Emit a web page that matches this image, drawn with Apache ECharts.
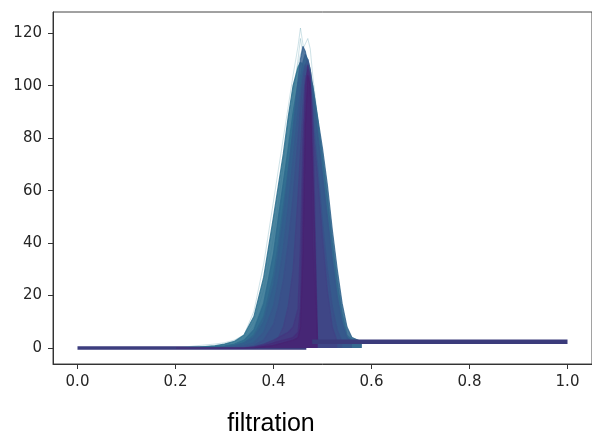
<!DOCTYPE html>
<html>
<head>
<meta charset="utf-8">
<script src="https://cdn.jsdelivr.net/npm/echarts@6/dist/echarts.min.js"></script>
<style>
html,body{margin:0;padding:0;background:#fff;}
#chart{width:592px;height:437px;}
</style>
</head>
<body>
<div id="chart"></div>
<script>
// filtration grid shared by all curves
const xs = [0.20,0.25,0.28,0.30,0.32,0.34,0.36,0.38,0.40,0.41,0.42,0.43,0.44,0.45,0.455,0.46,0.465,0.47,0.475,0.48,0.49,0.50,0.51,0.52,0.53,0.54,0.55,0.56,0.58,0.60];

// faint outlier curves
const faint1 = [0,1,1.5,2,3,5,14,32,56,68,80,92,104,115,122,116,108,102,96,90,78,65,52,38,25,13,6,4,2.4,null];
const faint2 = [0,0.5,1,1.5,2.5,4,10,22,42,55,70,86,100,108,112,114,116,118,114,104,88,72,56,40,26,14,7,4,2.4,null];
const faint3 = [0,0.3,0.8,1.2,2,3.5,8,18,36,48,62,78,96,110,118,112,104,98,92,86,74,62,50,36,22,12,6,3.5,2.4,null];

// main curves
const teal1 = [0,0.3,0.8,1.5,2.5,5,12,27,50,62,74,88,100,107,109,108,106,104,102,100,87,72,57,40,25,13,5,3.2,2.4,null];
const teal2 = [0,0.1,0.4,0.8,1.5,3,7,17,36,50,63,76,90,101,104,103,101,98,94,88,74,58,42,27,14,6,3,2.4,null,null];
const teal3 = [0,0,0.2,0.5,1,2,5,12,28,40,54,68,82,96,103,109,112,110,106,100,88,76,62,45,30,17,8,4,2.4,null];
const blue1 = [0,0,0,0.3,0.8,2,4,10,24,36,50,66,84,102,110,115,113,108,102,95,80,64,48,32,18,8,4,2.4,null,null];
const blue2 = [0,0,0,0,0.3,1,2,6,16,26,38,54,72,90,98,105,108,110,106,98,82,66,50,34,20,10,4,2.4,null,null];
const blue3 = [0,0,0,0,0,0.3,1,3,9,16,26,40,58,80,92,102,108,106,100,90,70,48,30,16,7,2.4,null,null,null,null];
const violet1 = [0,0,0,0,0,0,0,0.5,2,4,8,16,30,58,75,92,104,100,95,85,65,42,22,8,2.4,null,null,null,null,null];
const purple3 = [0,0,0,0,0,0,0.5,1.5,3,4,5,6,8,15,40,80,100,106,102,90,2.4,null,null,null,null,null,null,null,null,null];
const purple1 = [0,0,0,0,0,0,0.3,1,2,2.5,3,3.5,4,6,15,60,100,108,104,40,2.4,null,null,null,null,null,null,null,null,null];
const purple2 = [0,0,0,0,0,0,0,0.5,1,1.5,2,2.5,3,4,8,35,85,104,100,70,2.4,null,null,null,null,null,null,null,null,null];

// flat parts
const baseX = [0.0, 0.467];
const baseY = [0, 0];
const tailX = [0.479, 1.0];
const tailY = [2.4, 2.4];

// ticks
const xTicks = [0.0,0.2,0.4,0.6,0.8,1.0];
const yTicks = [0,20,40,60,80,100,120];

const pairs = (x, y) => x.map((v, i) => [v, y[i]]);

const faintCurves = [faint1, faint2, faint3];
const mainCurves = [
  {d: teal1, c: '#2c708e', o: 0.85},
  {d: teal2, c: '#2e6b8e', o: 0.85},
  {d: teal3, c: '#31658d', o: 0.85},
  {d: blue1, c: '#335e8d', o: 0.8},
  {d: blue2, c: '#37578c', o: 0.8},
  {d: blue3, c: '#3b4f8a', o: 0.75},
  {d: violet1, c: '#414285', o: 0.7},
  {d: purple3, c: '#45337f', o: 0.6},
  {d: purple1, c: '#472878', o: 0.55},
  {d: purple2, c: '#481f70', o: 0.55}
];

const series = [];
series.push({type:'line', data: pairs(baseX, baseY), showSymbol:false, silent:true,
  lineStyle:{color:'#3c3d7e', width:3.5, cap:'butt'}, z:1});
faintCurves.forEach(d => series.push({type:'line', data: pairs(xs, d), showSymbol:false, silent:true,
  lineStyle:{color:'#3a8aa0', width:1, opacity:0.25}, z:2}));
mainCurves.forEach((m, k) => series.push({type:'line', data: pairs(xs, m.d), showSymbol:false, silent:true,
  lineStyle:{color:m.c, width:1.2, opacity:m.o},
  areaStyle:{color:m.c, opacity:m.o}, z:3+k}));
series.push({type:'line', data: pairs(tailX, tailY), showSymbol:false, silent:true,
  lineStyle:{color:'#3b3b7b', width:4.5, cap:'butt'}, z:20});

const chart = echarts.init(document.getElementById('chart'), null, {renderer:'canvas'});
chart.setOption({
  animation:false,
  backgroundColor:'#ffffff',
  grid:{left:53, right:-4, top:12, bottom:73, show:true, borderColor:'#444', borderWidth:1, backgroundColor:'transparent'},
  xAxis:{type:'value', min:-0.05, max:1.05,
    axisLine:{show:true, onZero:false, lineStyle:{color:'#333', width:1}},
    axisTick:{show:true, length:5, lineStyle:{color:'#333'}, customValues:xTicks},
    axisLabel:{color:'#262626', fontFamily:'DejaVu Sans', fontSize:15, margin:11,
      customValues:xTicks, formatter:v => v.toFixed(1)},
    splitLine:{show:false}},
  yAxis:{type:'value', min:-6.1, max:128.1,
    axisLine:{show:true, onZero:false, lineStyle:{color:'#333', width:1}},
    axisTick:{show:true, length:5, lineStyle:{color:'#333'}, customValues:yTicks},
    axisLabel:{color:'#262626', fontFamily:'DejaVu Sans', fontSize:15, margin:11,
      customValues:yTicks},
    splitLine:{show:false}},
  graphic:[{type:'text', x:271, y:424,
    style:{text:'filtration', fill:'#000', font:'25px "Liberation Sans", Arial, sans-serif',
      align:'center', verticalAlign:'middle'}}],
  series: series
});
</script>
</body>
</html>
